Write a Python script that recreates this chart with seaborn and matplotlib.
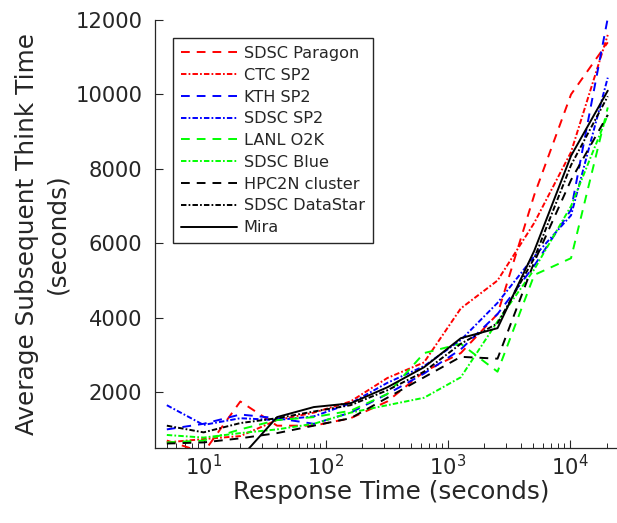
import matplotlib
matplotlib.use("Agg")
import matplotlib.pyplot as plt
import numpy as np
import pandas as pd
import seaborn as sns
from matplotlib.ticker import LogLocator, NullFormatter, FixedLocator

# ---- data -------------------------------------------------------------
response_time = [5, 10, 20, 40, 80, 160, 320, 640, 1280, 2560, 5120, 10240, 20480]

sdsc_paragon = [700, 380, 1750, 1100, 1100, 1300, 1750, 2550, 3050, 4100, 7300, 10000, 11400]
ctc_sp2 = [650, 740, 820, 1250, 1450, 1750, 2380, 2800, 4250, 5000, 6550, 8450, 11600]
kth_sp2 = [1000, 1150, 1400, 1300, 1150, 1450, 1950, 2500, 3150, 4100, 5400, 6900, 12050]
sdsc_sp2 = [1650, 1120, 1300, 1250, 1350, 1700, 2250, 2700, 3400, 4400, 5650, 6750, 10450]
lanl_o2k = [650, 700, 1000, 1250, 1330, 1500, 1950, 3050, 3300, 2550, 5150, 5600, 9650]
sdsc_blue = [850, 780, 900, 1000, 1150, 1450, 1650, 1850, 2400, 3900, 5300, 7000, 9450]
hpc2n_cluster = [620, 650, 760, 900, 1100, 1300, 1850, 2400, 2950, 2900, 5500, 7700, 9450]
sdsc_datastar = [1100, 920, 1170, 1300, 1480, 1650, 2050, 2550, 3300, 3850, 5600, 8100, 9950]
mira = [250, 200, 230, 1330, 1600, 1700, 2130, 2670, 3450, 3720, 5800, 8350, 10100]

systems = ["SDSC Paragon", "CTC SP2", "KTH SP2", "SDSC SP2", "LANL O2K",
           "SDSC Blue", "HPC2N cluster", "SDSC DataStar", "Mira"]
series = [sdsc_paragon, ctc_sp2, kth_sp2, sdsc_sp2, lanl_o2k,
          sdsc_blue, hpc2n_cluster, sdsc_datastar, mira]

x_ticks = [10, 100, 1000, 10000]
y_ticks = [2000, 4000, 6000, 8000, 10000, 12000]

# ---- styles -----------------------------------------------------------
colors = ["#FF0000", "#FF0000", "#0000FF", "#0000FF", "#00FF00",
          "#00FF00", "#000000", "#000000", "#000000"]
dash = (4.5, 3.6)
dashdot = (2.8, 1.1, 0.9, 1.1)
dash_styles = [dash, dashdot, dash, dashdot, dash, dashdot, dash, dashdot, ""]

df = pd.concat(
    [pd.DataFrame({"Response": response_time, "Think": vals, "System": name})
     for name, vals in zip(systems, series)],
    ignore_index=True,
)

sns.set_theme(style="white")
plt.rcParams["font.family"] = ["DejaVu Sans"]
plt.rcParams["mathtext.default"] = "regular"

fig = plt.figure(figsize=(6.17, 5.23), dpi=100)
ax = fig.add_axes([155 / 617, 75 / 523, 473 / 617, 428 / 523])

sns.lineplot(
    data=df, x="Response", y="Think", hue="System", style="System",
    hue_order=systems, style_order=systems,
    palette=dict(zip(systems, colors)),
    dashes=dict(zip(systems, dash_styles)),
    linewidth=1.4, errorbar=None, sort=False, ax=ax, legend=True,
)

ax.set_xscale("log")
ax.set_xlim(4, 30000)
ax.set_ylim(500, 12000)
ax.xaxis.set_major_locator(FixedLocator(x_ticks))
ax.xaxis.set_minor_locator(LogLocator(base=10, subs=np.arange(2, 10) * 1.0, numticks=20))
ax.xaxis.set_minor_formatter(NullFormatter())
ax.yaxis.set_major_locator(FixedLocator(y_ticks))

txt = "#262626"
for side in ["top", "right"]:
    ax.spines[side].set_visible(False)
for side in ["left", "bottom"]:
    ax.spines[side].set_color(txt)
    ax.spines[side].set_linewidth(0.9)

ax.tick_params(axis="both", which="major", direction="in", length=6, width=0.8,
               colors=txt, labelsize=15.2, bottom=True, left=True, top=False, right=False)
ax.tick_params(axis="x", which="minor", direction="in", length=3.5, width=0.7,
               colors=txt, bottom=True, top=False)
ax.tick_params(axis="y", which="major", pad=9)
ax.tick_params(axis="x", which="major", pad=4)

ax.set_xlabel("Response Time (seconds)", fontsize=17.8, color=txt, labelpad=1)
ax.set_ylabel("Average Subsequent Think Time\n(seconds)", fontsize=17.8, color=txt,
              linespacing=1.3)
ax.yaxis.set_label_coords(-0.182, 0.5)

handles, labels = ax.get_legend_handles_labels()
ax.get_legend().remove()
leg = ax.legend(handles, labels, loc="upper left", bbox_to_anchor=(0.038, 0.958),
                borderaxespad=0, fontsize=11.6, frameon=True, fancybox=False,
                edgecolor="#262626", framealpha=1, handlelength=3.5,
                handletextpad=0.4, labelspacing=0.42, borderpad=0.5)
leg.get_frame().set_linewidth(1.0)
for t in leg.get_texts():
    t.set_color(txt)

fig.savefig("out.png", dpi=100)
